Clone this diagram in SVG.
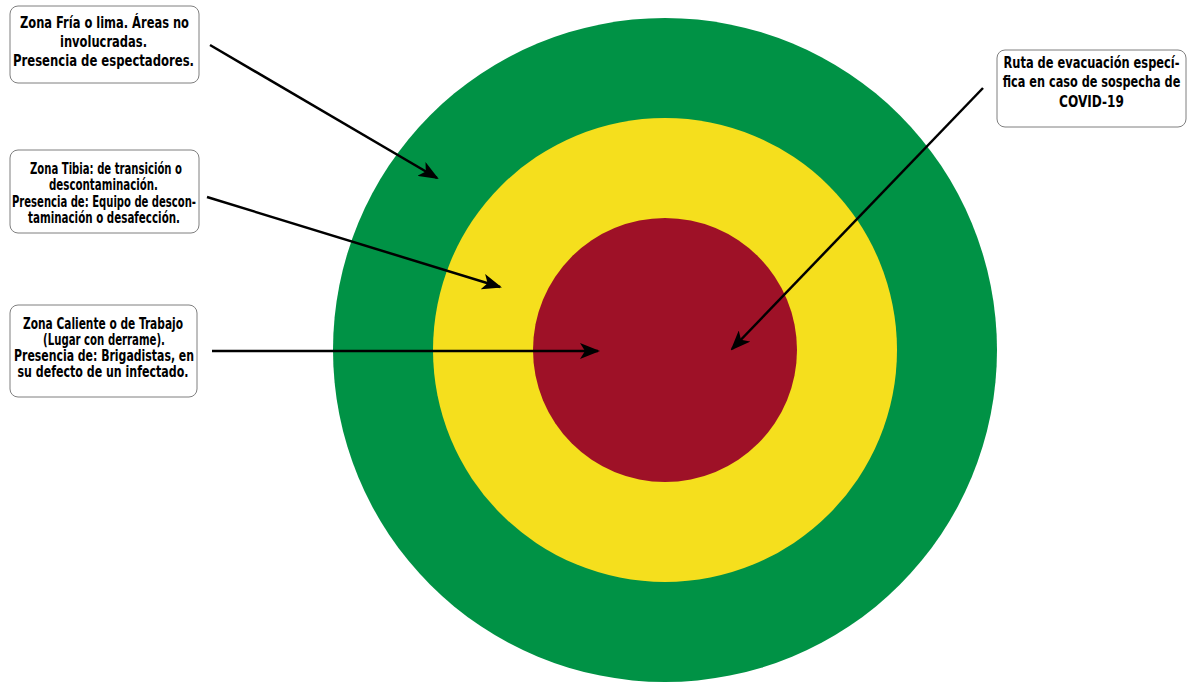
<svg xmlns="http://www.w3.org/2000/svg" width="1201" height="683" viewBox="0 0 1201 683">
<style>
.box{fill:#fff;stroke:#7f7f7f;stroke-width:1}
.t{font-family:"Liberation Sans Narrow","DejaVu Sans Condensed","Liberation Sans",sans-serif;font-weight:bold;font-size:16px;fill:#000;text-anchor:middle}
.s{font-size:15px}
.c{stroke:#000;stroke-width:2.5;fill:none;marker-end:url(#ah)}
</style>
<defs>
<marker id="ah" viewBox="0 0 20 16" refX="18" refY="8" markerWidth="20" markerHeight="16" markerUnits="userSpaceOnUse" orient="auto">
<path d="M0,0 L20,8 L0,16 L5,8 Z" fill="#000"/>
</marker>
</defs>
<rect width="1201" height="683" fill="#fff"/>
<g id="zones">
<circle cx="665" cy="350" r="332" fill="#009245"/>
<circle cx="665" cy="350" r="232" fill="#f5df1d"/>
<circle cx="665" cy="350" r="132" fill="#9e1127"/>
</g>
<g id="connectors">
<line class="c" x1="210" y1="45" x2="437" y2="178"/>
<line class="c" x1="207" y1="197" x2="500" y2="287"/>
<line class="c" x1="212" y1="351" x2="598" y2="351"/>
<line class="c" x1="983" y1="88" x2="732" y2="349"/>
</g>
<g id="n1">
<rect class="box" x="10" y="6" width="189" height="77" rx="8"/>
<text class="t" lengthAdjust="spacingAndGlyphs" x="104.5" y="28" textLength="169">Zona Fría o lima. Áreas no</text>
<text class="t" lengthAdjust="spacingAndGlyphs" x="103.5" y="47" textLength="87">involucradas.</text>
<text class="t" lengthAdjust="spacingAndGlyphs" x="103.5" y="66" textLength="181">Presencia de espectadores.</text>
</g>
<g id="n2">
<rect class="box" x="10" y="150" width="189" height="83" rx="8"/>
<text class="t s" lengthAdjust="spacingAndGlyphs" x="106" y="174" textLength="152">Zona Tibia: de transición o</text>
<text class="t s" lengthAdjust="spacingAndGlyphs" x="103.5" y="190" textLength="109">descontaminación.</text>
<text class="t s" lengthAdjust="spacingAndGlyphs" x="104" y="207" textLength="184">Presencia de: Equipo de descon-</text>
<text class="t s" lengthAdjust="spacingAndGlyphs" x="104" y="223" textLength="152">taminación o desafección.</text>
</g>
<g id="n3">
<rect class="box" x="10" y="305" width="187" height="92" rx="8"/>
<text class="t s" lengthAdjust="spacingAndGlyphs" x="103" y="329" textLength="160">Zona Caliente o de Trabajo</text>
<text class="t s" lengthAdjust="spacingAndGlyphs" x="104" y="345" textLength="122">(Lugar con derrame).</text>
<text class="t s" lengthAdjust="spacingAndGlyphs" x="104" y="361" textLength="180">Presencia de: Brigadistas, en</text>
<text class="t s" lengthAdjust="spacingAndGlyphs" x="103" y="377" textLength="171">su defecto de un infectado.</text>
</g>
<g id="n4">
<rect class="box" x="997" y="50" width="189" height="77" rx="8"/>
<g transform="translate(1091.5,0) scale(0.8,1)">
<text class="t" lengthAdjust="spacingAndGlyphs" x="0" y="68" textLength="220">Ruta de evacuación especí-</text>
<text class="t" lengthAdjust="spacingAndGlyphs" x="0" y="87" textLength="222">fica en caso de sospecha de</text>
<text class="t" lengthAdjust="spacingAndGlyphs" x="0" y="107" textLength="81">COVID-19</text>
</g>
</g>
</svg>
